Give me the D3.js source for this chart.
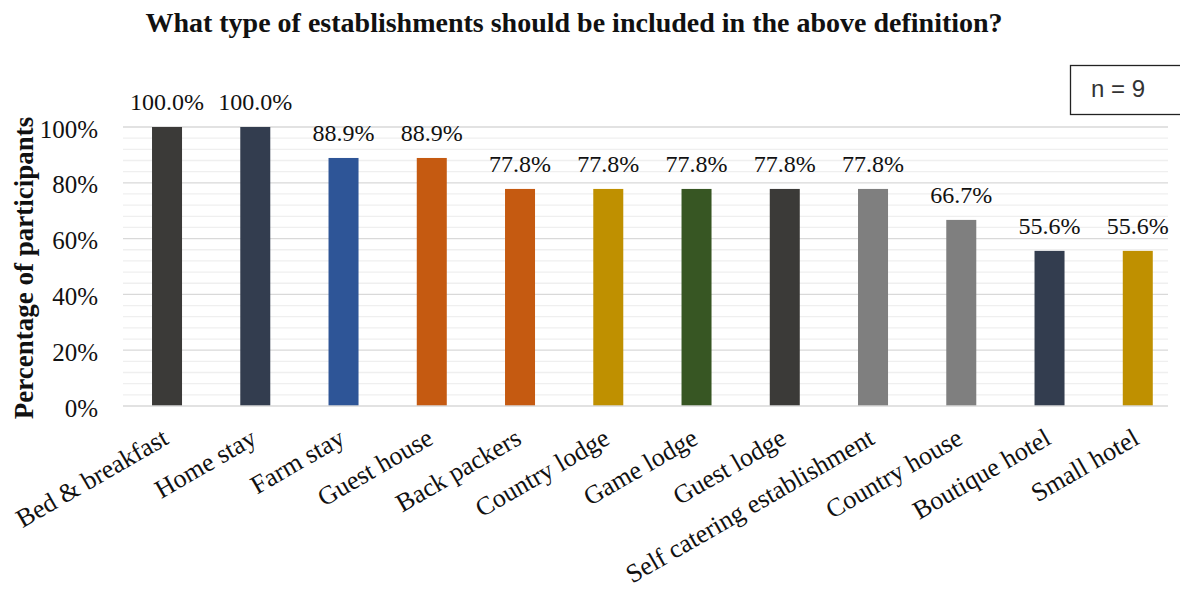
<!DOCTYPE html>
<html>
<head>
<meta charset="utf-8">
<script src="https://cdn.jsdelivr.net/npm/d3@7"></script>
<style>
  body { margin: 0; background: #fff; }
  svg { display: block; }
</style>
</head>
<body>
<svg id="chart" width="1180" height="589"></svg>
<script>
const categories = ["Bed & breakfast", "Home stay", "Farm stay", "Guest house", "Back packers",
  "Country lodge", "Game lodge", "Guest lodge", "Self catering establishment", "Country house",
  "Boutique hotel", "Small hotel"];
const values = [100.0, 100.0, 88.9, 88.9, 77.8, 77.8, 77.8, 77.8, 77.8, 66.7, 55.6, 55.6];
const barColors = ["#3b3a38", "#333d4f", "#2e5597", "#c55a11", "#c55a11", "#bf9000",
  "#375623", "#3b3a38", "#7f7f7f", "#7f7f7f", "#333d4f", "#bf9000"];
const yTicks = [0, 20, 40, 60, 80, 100];
const title = "What type of establishments should be included in the above definition?";
const yTitle = "Percentage of participants";
const note = "n = 9";

const svg = d3.select("#chart");
const W = 1180;
const plotLeft = 123, plotRight = 1168, plotTop = 127, plotBottom = 406;
const serif = "'Liberation Serif', 'Times New Roman', serif";

const x = d3.scaleBand().domain(categories).range([122.9, 1181.9])
  .paddingInner(0.66).paddingOuter(0.33);
const y = d3.scaleLinear().domain([0, 100]).range([plotBottom, plotTop]);

// minor gridlines every 4%
svg.append("g").selectAll("line").data(d3.range(0, 101, 4).filter(v => v % 20 !== 0))
  .join("line")
  .attr("x1", plotLeft).attr("x2", plotRight)
  .attr("y1", d => y(d)).attr("y2", d => y(d))
  .attr("stroke", "#efefef").attr("stroke-width", 1.3);

// major gridlines
svg.append("g").selectAll("line").data(yTicks.filter(v => v > 0))
  .join("line")
  .attr("x1", plotLeft).attr("x2", plotRight)
  .attr("y1", d => y(d)).attr("y2", d => y(d))
  .attr("stroke", "#d9d9d9").attr("stroke-width", 1.3);

// bars
svg.append("g").selectAll("rect").data(categories)
  .join("rect")
  .attr("x", d => x(d))
  .attr("width", x.bandwidth())
  .attr("y", (d, i) => y(values[i]))
  .attr("height", (d, i) => y(0) - y(values[i]))
  .attr("fill", (d, i) => barColors[i]);

// baseline
svg.append("line")
  .attr("x1", plotLeft).attr("x2", plotRight)
  .attr("y1", y(0)).attr("y2", y(0))
  .attr("stroke", "#d9d9d9").attr("stroke-width", 1.5);

// value labels
svg.append("g").selectAll("text").data(categories)
  .join("text")
  .attr("x", d => x(d) + x.bandwidth() / 2)
  .attr("y", (d, i) => y(values[i]) - 17)
  .attr("text-anchor", "middle")
  .attr("font-family", serif).attr("font-size", 24).attr("fill", "#111")
  .text((d, i) => values[i].toFixed(1) + "%");

// y axis
const yAxis = d3.axisLeft(y).tickValues(yTicks).tickFormat(d => d + "%").tickSize(0).tickPadding(0);
const gy = svg.append("g").attr("transform", "translate(98,0)").call(yAxis);
gy.select(".domain").remove();
gy.selectAll("text").attr("font-family", serif).attr("font-size", 25).attr("fill", "#111").attr("dy", "0.4em");

// x axis labels
const xAxis = d3.axisBottom(x).tickSize(0).tickPadding(0);
const gx = svg.append("g").attr("transform", `translate(0,${y(0)})`).call(xAxis);
gx.select(".domain").remove();
gx.selectAll("text")
  .attr("font-family", serif).attr("font-size", 26).attr("fill", "#111")
  .attr("text-anchor", "end")
  .attr("transform", "translate(3,37) rotate(-30)")
  .attr("dy", 0).attr("y", 0).attr("x", 0);

// y axis title
svg.append("text")
  .attr("transform", `translate(33,268) rotate(-90)`)
  .attr("text-anchor", "middle")
  .attr("font-family", serif).attr("font-size", 27).attr("font-weight", "bold").attr("fill", "#111")
  .text(yTitle);

// chart title
svg.append("text")
  .attr("x", 574).attr("y", 32)
  .attr("text-anchor", "middle")
  .attr("font-family", serif).attr("font-size", 28).attr("font-weight", "bold").attr("fill", "#111")
  .text(title);

// sample size box
svg.append("rect")
  .attr("x", 1070.5).attr("y", 65.5).attr("width", 120).attr("height", 49)
  .attr("fill", "#fff").attr("stroke", "#222").attr("stroke-width", 1.3);
svg.append("text")
  .attr("x", 1091).attr("y", 97)
  .attr("font-family", "'Liberation Sans', Arial, sans-serif").attr("font-size", 24).attr("fill", "#333")
  .text(note);
</script>
</body>
</html>
